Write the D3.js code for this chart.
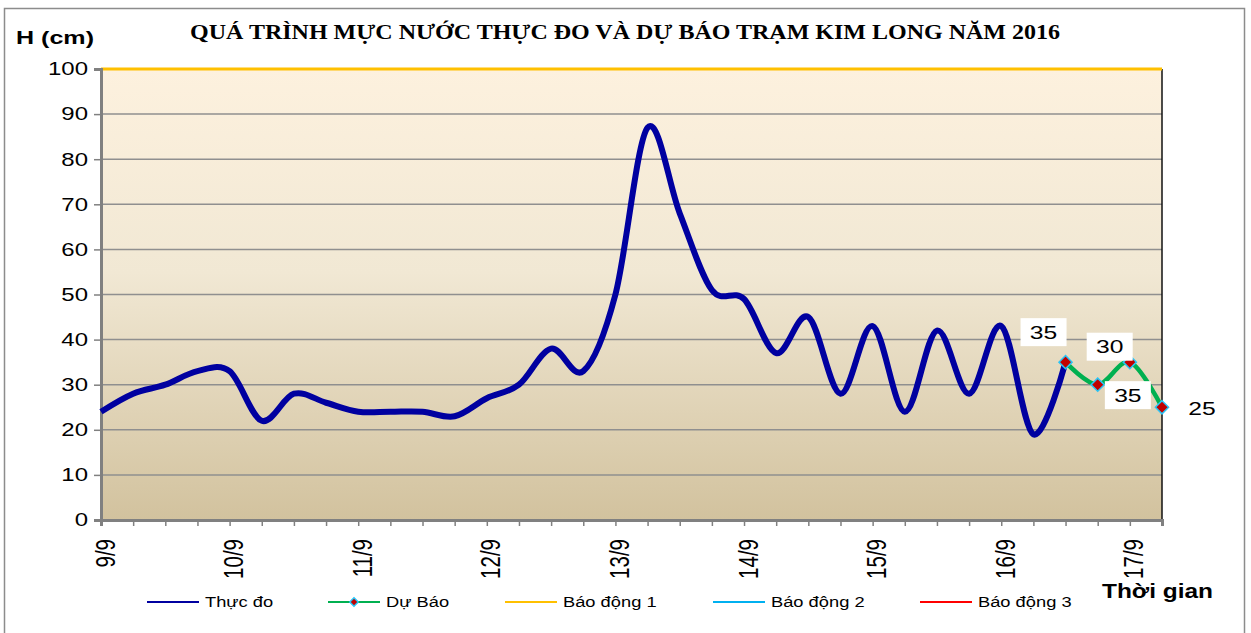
<!DOCTYPE html>
<html><head><meta charset="utf-8">
<script src="https://cdn.jsdelivr.net/npm/d3@7"></script>
<style>body{margin:0;background:#fff}svg{display:block}</style>
</head><body>
<script>
const dayLabels = ["9/9","10/9","11/9","12/9","13/9","14/9","15/9","16/9","17/9"];
const observed = [24,28,30,33,33,22,28,26,24,24,24,23,27,30,38,33,50,87,68,51,49,37,45,28,43,24,42,28,43,19,35];
const forecast = [35,30,35,25];
const forecastStart = 30;
const forecastLabels = ["35","30","35","25"];
const yTicks = [0,10,20,30,40,50,60,70,80,90,100];
const alarm1 = 100;
const nPoints = 34;
const seriesNames = ["Thực đo","Dự Báo","Báo động  1","Báo động  2","Báo động  3"];
const seriesColors = ["#0000A0","#00B050","#FFC000","#00B0F0","#FF0000"];

const W=1251,H=633;
const SX=1.37; // horizontal stretch of chart text
const sans="Liberation Sans, Arial, sans-serif";
const svg=d3.select("body").append("svg").attr("width",W).attr("height",H);
const L=101,R=1162,T=69,B=520;
const x=d3.scaleLinear().domain([0,nPoints-1]).range([L,R]);
const y=d3.scaleLinear().domain([0,100]).range([B,T]);

// outer frame
svg.append("rect").attr("x",4.5).attr("y",8.5).attr("width",1240).attr("height",640).attr("fill","#fff").attr("stroke","#8c8c8c").attr("stroke-width",1.5);

const defs=svg.append("defs");
const g=defs.append("linearGradient").attr("id","bg").attr("x1",0).attr("y1",0).attr("x2",0).attr("y2",1);
g.append("stop").attr("offset","0%").attr("stop-color","#FDF1DE");
g.append("stop").attr("offset","45%").attr("stop-color","#F1E8D4");
g.append("stop").attr("offset","100%").attr("stop-color","#D2C29E");
svg.append("rect").attr("x",L).attr("y",T).attr("width",R-L).attr("height",B-T).attr("fill","url(#bg)");

// gridlines
svg.append("g").selectAll("line").data(yTicks.filter(d=>d>0&&d<100)).join("line")
 .attr("x1",L).attr("x2",R).attr("y1",d=>y(d)).attr("y2",d=>y(d)).attr("stroke","#8f8f8f").attr("stroke-width",1.5);

// right border
svg.append("line").attr("x1",R).attr("x2",R).attr("y1",T).attr("y2",B).attr("stroke","#111").attr("stroke-width",1.5);

// alarm 1 line
svg.append("line").attr("x1",L).attr("x2",R).attr("y1",y(alarm1)).attr("y2",y(alarm1)).attr("stroke",seriesColors[2]).attr("stroke-width",3);

// Y axis
const ya=svg.append("g").attr("transform",`translate(${L},0)`).call(d3.axisLeft(y).tickValues(yTicks).tickSize(7).tickFormat(""));
ya.select(".domain").attr("stroke","#808080").attr("stroke-width",3);
ya.selectAll(".tick line").attr("stroke","#808080").attr("stroke-width",1.5);
svg.append("g").selectAll("text").data(yTicks).join("text")
 .attr("transform",d=>`translate(88,${y(d)}) scale(${SX},1)`)
 .attr("text-anchor","end").attr("dy","0.36em").attr("font-family",sans).attr("font-size",17.5).attr("fill","#000").text(d=>d);

// X axis
const xa=svg.append("g").attr("transform",`translate(0,${B})`).call(d3.axisBottom(x).tickValues(d3.range(nPoints)).tickSize(6).tickFormat(""));
xa.select(".domain").attr("stroke","#808080").attr("stroke-width",3);
xa.selectAll(".tick line").attr("stroke","#808080").attr("stroke-width",1.5);
svg.append("g").selectAll("text").data(dayLabels).join("text")
 .attr("transform",(d,i)=>`translate(${x(i*4)+3.5},539) scale(${SX},1) rotate(-90)`)
 .attr("text-anchor","end").attr("dy","0.36em").attr("font-family",sans).attr("font-size",20.5).attr("fill","#000").text(d=>d);

// lines
const curve=d3.curveCatmullRom.alpha(0);
const line=d3.line().x(d=>x(d[0])).y(d=>y(d[1])).curve(curve);
svg.append("path").attr("d",line(observed.map((v,i)=>[i,v]))).attr("fill","none").attr("stroke",seriesColors[0]).attr("stroke-width",6).attr("stroke-linejoin","round");
const fdata=forecast.map((v,i)=>[forecastStart+i,v]);
svg.append("path").attr("d",line(fdata)).attr("fill","none").attr("stroke",seriesColors[1]).attr("stroke-width",4.5).attr("stroke-linejoin","round");
svg.append("g").selectAll("path").data(fdata).join("path")
 .attr("transform",d=>`translate(${x(d[0])},${y(d[1])})`)
 .attr("d",d3.symbol(d3.symbolDiamond2,110)())
 .attr("fill","#C00000").attr("stroke","#29C5F6").attr("stroke-width",1.5);

// data labels (as in reference)
const lblPos=[[-22,-30,true],[12,-38,true],[-2,33,true],[40,1,false]];
fdata.forEach((d,i)=>{
  const cx=x(d[0])+lblPos[i][0], cy=y(d[1])+lblPos[i][1];
  if(lblPos[i][2]) svg.append("rect").attr("x",cx-23).attr("y",cy-14).attr("width",46).attr("height",28).attr("fill","#fff");
  svg.append("text").attr("transform",`translate(${cx},${cy}) scale(${SX},1)`).attr("dy","0.36em").attr("text-anchor","middle").attr("font-family",sans).attr("font-size",18).attr("fill","#000").text(forecastLabels[i]);
});

// title
svg.append("text").attr("x",190).attr("y",39).attr("textLength",870).attr("lengthAdjust","spacingAndGlyphs").attr("font-family","Liberation Serif, Times New Roman, serif").attr("font-weight","bold").attr("font-size",20).attr("fill","#000").text("QUÁ TRÌNH MỰC NƯỚC THỰC ĐO VÀ DỰ BÁO TRẠM KIM LONG NĂM 2016");
svg.append("text").attr("x",16).attr("y",44).attr("textLength",78).attr("lengthAdjust","spacingAndGlyphs").attr("font-family",sans).attr("font-weight","bold").attr("font-size",18).attr("fill","#000").text("H (cm)");
svg.append("text").attr("x",1102).attr("y",598).attr("textLength",111).attr("lengthAdjust","spacingAndGlyphs").attr("font-family",sans).attr("font-weight","bold").attr("font-size",20).attr("fill","#000").text("Thời gian");

// legend
const lx=[147,328,505,713,920];
const lg=svg.append("g").selectAll("g").data(seriesNames).join("g").attr("transform",(d,i)=>`translate(${lx[i]},602)`);
lg.append("line").attr("x1",0).attr("x2",52).attr("y1",0).attr("y2",0).attr("stroke",(d,i)=>seriesColors[i]).attr("stroke-width",2);
lg.filter((d,i)=>i===1).append("path").attr("transform","translate(26,0)").attr("d",d3.symbol(d3.symbolDiamond2,45)()).attr("fill","#C00000").attr("stroke","#29C5F6").attr("stroke-width",1.5);
lg.append("text").attr("transform","translate(58,5) scale(1.22,1)").attr("font-family",sans).attr("font-size",15).attr("fill","#000").text(d=>d);
</script>
</body></html>
